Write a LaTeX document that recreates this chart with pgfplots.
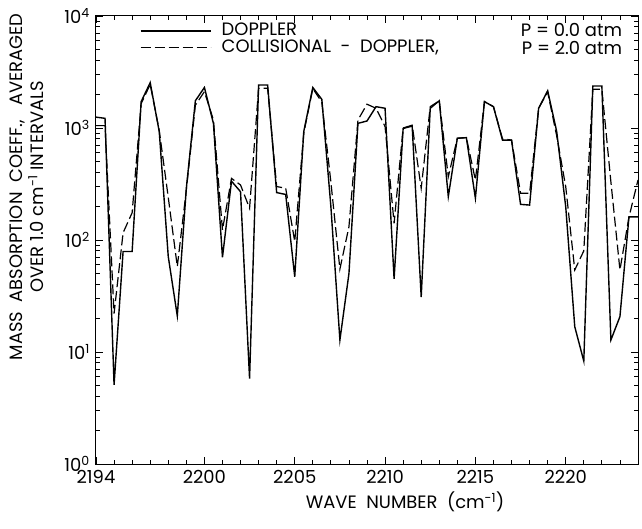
\documentclass[border=0pt]{standalone}
\usepackage{fontspec}
\setmainfont{Poppins}
\usepackage{pgfplots}
\pgfplotsset{compat=1.18}
\begin{document}
\fontsize{18}{21}\selectfont
\begin{tikzpicture}
\useasboundingbox (-96bp,-65bp) rectangle (546bp,464bp);
\begin{axis}[
 scale only axis, width=542bp, height=448bp,
 xmin=2194, xmax=2224, ymode=log, ymin=1, ymax=10000,
 xtick={2194,2200,2205,2210,2215,2220},
 xticklabels={2194,2200,2205,2210,2215,2220},
 minor xtick={2195,2196,...,2224},
 ytick={1,10,100,1000,10000},
 yticklabels={10\textsuperscript{0},10\textsuperscript{1},10\textsuperscript{2},10\textsuperscript{3},10\textsuperscript{4}},
 minor ytick={2,3,4,5,6,7,8,9,20,30,40,50,60,70,80,90,200,300,400,500,600,700,800,900,2000,3000,4000,5000,6000,7000,8000,9000},
 tick align=inside,
 major tick length=7bp, minor tick length=4bp,
 axis line style={line width=1bp},
 every tick/.style={line width=0.8bp, black},
 tick label style={font=\fontsize{18}{21}\selectfont},
 xticklabel style={yshift=0bp},
 legend style={draw=none, fill=none, at={(rel axis cs:0.075,0.99)}, anchor=north west,
   nodes={inner sep=0.5bp}, font=\fontsize{18}{21}\selectfont, row sep=0bp,
   /tikz/every odd column/.append style={column sep=10bp}},
 legend cell align=left,
 legend image code/.code={\draw[#1] (0bp,0bp) -- (70bp,0bp);},
]
\addplot[black, line width=1.4bp] coordinates {
(2194.0,1250) (2194.5,1220) (2195.0,5.1) (2195.5,79) (2196.0,79) (2196.5,1720)
(2197.0,2540) (2197.5,930) (2198.0,71) (2198.5,21) (2199.0,290) (2199.5,1750)
(2200.0,2300) (2200.5,1100) (2201.0,70) (2201.5,335) (2202.0,270) (2202.5,5.8)
(2203.0,2420) (2203.5,2420) (2204.0,265) (2204.5,255) (2205.0,47) (2205.5,930)
(2206.0,2300) (2206.5,1800) (2207.0,200) (2207.5,12.8) (2208.0,50) (2208.5,1100)
(2209.0,1155) (2209.5,1550) (2210.0,1500) (2210.5,45) (2211.0,990) (2211.5,1040)
(2212.0,31) (2212.5,1500) (2213.0,1750) (2213.5,244) (2214.0,810) (2214.5,820)
(2215.0,236) (2215.5,1720) (2216.0,1550) (2216.5,780) (2217.0,780) (2217.5,208)
(2218.0,205) (2218.5,1500) (2219.0,2150) (2219.5,930) (2220.0,198) (2220.5,16.8)
(2221.0,8.3) (2221.5,2370) (2222.0,2370) (2222.5,12.8) (2223.0,20.7) (2223.5,161)
(2224.0,161)
};
\addlegendentry{DOPPLER}
\addplot[black, line width=1.2bp, dash pattern=on 10bp off 4bp] coordinates {
(2194.0,1050) (2194.5,1050) (2195.0,22) (2195.5,116) (2196.0,175) (2196.5,1650)
(2197.0,2450) (2197.5,950) (2198.0,240) (2198.5,58) (2199.0,280) (2199.5,1600)
(2200.0,2110) (2200.5,1180) (2201.0,123) (2201.5,355) (2202.0,310) (2202.5,192)
(2203.0,2260) (2203.5,2260) (2204.0,300) (2204.5,290) (2205.0,97) (2205.5,900)
(2206.0,2250) (2206.5,1700) (2207.0,330) (2207.5,55) (2208.0,131) (2208.5,1180)
(2209.0,1630) (2209.5,1500) (2210.0,1030) (2210.5,141) (2211.0,1000) (2211.5,1060)
(2212.0,290) (2212.5,1550) (2213.0,1750) (2213.5,367) (2214.0,810) (2214.5,820)
(2215.0,343) (2215.5,1720) (2216.0,1550) (2216.5,800) (2217.0,780) (2217.5,261)
(2218.0,261) (2218.5,1500) (2219.0,2100) (2219.5,850) (2220.0,299) (2220.5,54)
(2221.0,80) (2221.5,2220) (2222.0,2220) (2222.5,330) (2223.0,54) (2223.5,160)
(2224.0,343)
};
\addlegendentry{COLLISIONAL \ - \ DOPPLER,}
\node[anchor=base east, font=\fontsize{18}{21}\selectfont] at (rel axis cs:0.982,0.955) {P = 0.0 atm};
\node[anchor=base east, font=\fontsize{18}{21}\selectfont] at (rel axis cs:0.982,0.913) {P = 2.0 atm};
\end{axis}
\node[rotate=90, align=center, font=\fontsize{18}{21}\selectfont] at (-69bp,277bp)
  {MASS \ ABSORPTION \ COEFF., \ \ AVERAGED\\OVER 1.0 cm\textsuperscript{-1} INTERVALS};
\node[font=\fontsize{18}{21}\selectfont] at (309bp,-38bp) {WAVE \ NUMBER \ (cm\textsuperscript{-1})};
\end{tikzpicture}
\end{document}
